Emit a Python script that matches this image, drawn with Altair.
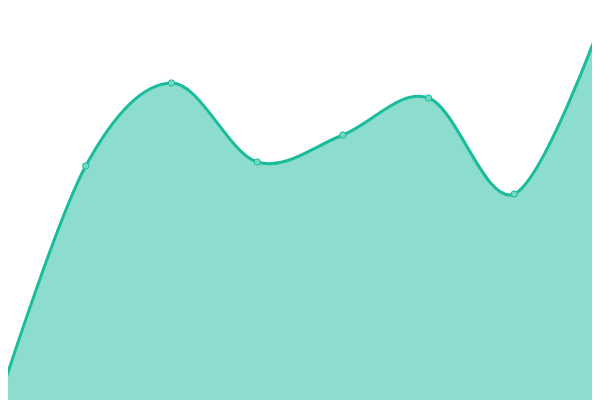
import altair as alt
import pandas as pd

idx = [0, 1, 2, 3, 4, 5, 6, 7]
values = [3, 234, 317, 238, 265, 302, 206, 375]

df = pd.DataFrame({"i": idx, "v": values})

LINE = "#1abc9c"

x = alt.X("i:Q", axis=None, scale=alt.Scale(domain=[0.0933, 6.907], nice=False, zero=False))
y = alt.Y("v:Q", axis=None, scale=alt.Scale(domain=[0, 392], nice=False, zero=False))

base = alt.Chart(df).encode(x=x, y=y)

area = base.mark_area(interpolate="cardinal", color=LINE, opacity=0.5)
line = base.mark_line(interpolate="cardinal", color=LINE, strokeWidth=3)
pts = base.mark_point(shape="circle", filled=True, size=40, fill="#6fd9c4",
                      stroke=LINE, strokeWidth=1, opacity=1)

chart = (area + line + pts).properties(
    width=584, height=392, padding=0, autosize=alt.AutoSizeParams(type="none")
).configure_view(stroke=None)

chart.save("out.html", embed_options={"renderer": "svg", "actions": False})
